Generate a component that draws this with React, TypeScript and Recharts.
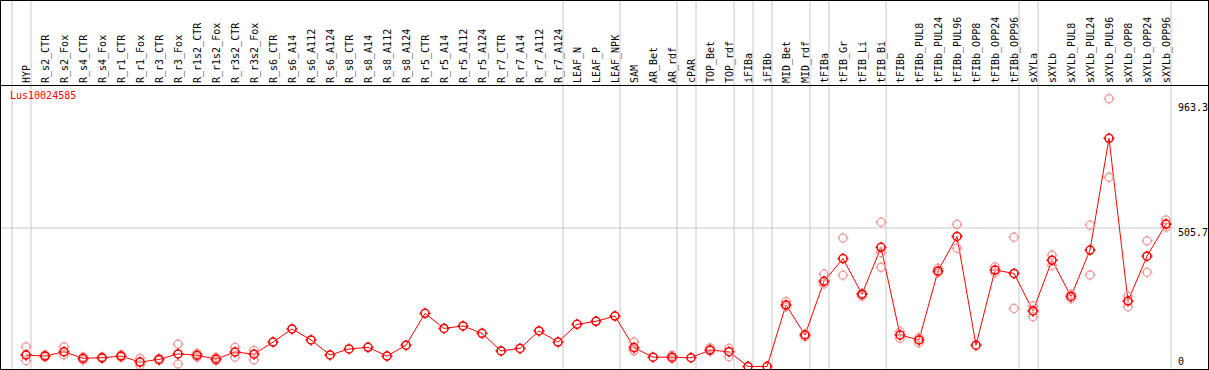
import { ComposedChart, Line, XAxis, YAxis, ReferenceLine } from 'recharts';

const names = [
  'HYP', 'R_s2_CTR', 'R_s2_Fox', 'R_s4_CTR', 'R_s4_Fox', 'R_r1_CTR', 'R_r1_Fox', 'R_r3_CTR', 'R_r3_Fox',
  'R_r1s2_CTR', 'R_r1s2_Fox', 'R_r3s2_CTR', 'R_r3s2_Fox', 'R_s6_CTR', 'R_s6_A14', 'R_s6_A112', 'R_s6_A124',
  'R_s8_CTR', 'R_s8_A14', 'R_s8_A112', 'R_s8_A124', 'R_r5_CTR', 'R_r5_A14', 'R_r5_A112', 'R_r5_A124',
  'R_r7_CTR', 'R_r7_A14', 'R_r7_A112', 'R_r7_A124', 'LEAF_N', 'LEAF_P', 'LEAF_NPK', 'SAM', 'AR_Bet', 'AR_rdf',
  'cPAR', 'TOP_Bet', 'TOP_rdf', 'iFIBa', 'iFIBb', 'MID_Bet', 'MID_rdf', 'tFIBa', 'tFIB_Gr', 'tFIB_Li', 'tFIB_Bi',
  'tFIBb', 'tFIBb_PUL8', 'tFIBb_PUL24', 'tFIBb_PUL96', 'tFIBb_OPP8', 'tFIBb_OPP24', 'tFIBb_OPP96',
  'sXYLa', 'sXYLb', 'sXYLb_PUL8', 'sXYLb_PUL24', 'sXYLb_PUL96', 'sXYLb_OPP8', 'sXYLb_OPP24', 'sXYLb_OPP96',
];

// mean expression per sample
const means = [
  42, 38, 54, 30, 32, 38, 16, 26, 46, 41, 27, 53, 45, 89, 137, 97, 42, 64, 70, 38, 78,
  194, 139, 148, 121, 57, 66, 130, 89, 154, 165, 184, 69, 34, 34, 32, 60, 54, 0, 0,
  225, 115, 311, 394, 264, 435, 115, 97, 349, 475, 78, 352, 340, 203, 388, 256, 425, 833, 239, 403, 520,
];

// replicates (null = none visible)
const rep1 = [
  72, 42, 72, 35, 35, 42, 30, 30, 82, 48, 34, 70, 59, null, null, null, null, null, null, null, null,
  null, null, null, null, null, null, null, null, null, null, null, 89, null, 41, null, 68, 66, null, null,
  237, 119, 338, 469, 267, 527, 127, 105, 359, 519, null, 364, 472, 221, 407, 264, 516, 978, 257, 459, 535,
];
const rep2 = [
  21, 35, 42, 24, 29, 34, 5, 23, 9, 34, 21, 34, 24, null, null, null, null, null, null, null, null,
  null, null, null, null, null, null, null, null, null, null, null, 58, null, 28, null, 57, 36, null, null,
  218, 109, 301, 333, 257, 416, 103, 87, 342, 432, null, 342, 212, 182, 369, 248, 334, 691, 218, 344, 509,
];
const rep3 = [
  42, null, null, null, null, null, null, null, null, null, null, null, null, null, null, null, null, null, null, null, null,
  null, null, null, null, null, null, null, null, null, null, null, 60, null, null, null, null, null, null, null,
  null, null, null, null, null, 362, null, null, null, null, null, null, null, null, null, null, null, null, null, null, null,
];

// group separators sit after these sample indices
const separators = [-1, 0, 28, 31, 34, 35, 37, 38, 39, 41, 42, 45, 52, 53, 60];
const yTicks = [0, 505.7, 963.3];
const gridValue = 505.7;

const W = 1209;
const H = 370;
const X0 = 26; // pixel of first sample
const STEP = 19; // pixels per sample
const Y_ZERO = 366.5;
const PX_PER_UNIT = 0.27388;
const PLOT_TOP = 1;
const PLOT_RIGHT = W - 1;

const xDomain = [-X0 / STEP, (PLOT_RIGHT - X0) / STEP];
const yDomain = [(Y_ZERO - H) / PX_PER_UNIT, (Y_ZERO - PLOT_TOP) / PX_PER_UNIT];

const FONT = '"DejaVu Sans Mono", monospace';

const data = names.map((name, i) => ({
  i,
  name,
  mean: means[i],
  r1: rep1[i],
  r2: rep2[i],
  r3: rep3[i],
}));

function Marker({ cx, cy, color, width }: { cx: number; cy: number; color: string; width: number }) {
  const r = 4;
  return (
    <g stroke={color} strokeWidth={width} fill="none">
      <circle cx={cx} cy={cy} r={r} />
      <line x1={cx} y1={cy - r - 1.5} x2={cx} y2={cy - r + 0.5} />
      <line x1={cx} y1={cy + r - 0.5} x2={cx} y2={cy + r + 1.5} />
      <line x1={cx - r - 1.5} y1={cy} x2={cx - r + 0.5} y2={cy} />
      <line x1={cx + r - 0.5} y1={cy} x2={cx + r + 1.5} y2={cy} />
    </g>
  );
}

const mainDot = (props: any) => {
  const { cx, cy, index } = props;
  if (cx == null || cy == null || props.value == null) return <g key={`m-${index}`} />;
  return (
    <g key={`m-${index}`}>
      <Marker cx={cx} cy={cy} color="#ff0000" width={1.5} />
    </g>
  );
};

const repDot = (tag: string) => (props: any) => {
  const { cx, cy, index } = props;
  if (cx == null || cy == null || props.value == null) return <g key={`${tag}-${index}`} />;
  return (
    <g key={`${tag}-${index}`}>
      <Marker cx={cx} cy={cy} color="#f29a9a" width={1.3} />
    </g>
  );
};

const XTick = (props: any) => {
  const { x, payload } = props;
  return (
    <g>
      <text
        transform={`translate(${x + 4},83) rotate(-90)`}
        fontFamily={FONT}
        fontSize={10}
        fill="#000"
        textAnchor="start"
      >
        {names[payload.value]}
      </text>
    </g>
  );
};

const YTick = (props: any) => {
  const { y, payload } = props;
  return (
    <g>
      <text x={1178} y={Math.min(y + 8, 365)} fontFamily={FONT} fontSize={10} fill="#000" textAnchor="start">
        {payload.value}
      </text>
    </g>
  );
};

export default function App() {
  return (
    <div style={{ position: 'absolute', left: 0, top: 0, width: W, height: H, background: '#fff' }}>
      <ComposedChart width={W} height={H} data={data} margin={{ top: 0, right: 0, bottom: 0, left: 0 }}>
        <XAxis
          type="number"
          dataKey="i"
          orientation="top"
          domain={xDomain}
          allowDataOverflow
          ticks={names.map((_, i) => i)}
          interval={0}
          height={PLOT_TOP}
          axisLine={false}
          tickLine={false}
          tick={XTick}
        />
        <YAxis
          type="number"
          orientation="right"
          domain={yDomain}
          allowDataOverflow
          ticks={yTicks}
          interval={0}
          width={W - PLOT_RIGHT}
          axisLine={false}
          tickLine={false}
          tick={YTick}
        />
        {separators.map((s) => (
          <ReferenceLine key={s} x={s + 5 / STEP} stroke="#c8c8c8" strokeWidth={1} />
        ))}
        <ReferenceLine
          segment={[
            { x: (1 - X0) / STEP, y: gridValue },
            { x: (1175 - X0) / STEP, y: gridValue },
          ]}
          stroke="#c8c8c8"
          strokeWidth={1}
        />
        <Line dataKey="r1" stroke="none" dot={repDot('a')} activeDot={false} isAnimationActive={false} />
        <Line dataKey="r2" stroke="none" dot={repDot('b')} activeDot={false} isAnimationActive={false} />
        <Line dataKey="r3" stroke="none" dot={repDot('c')} activeDot={false} isAnimationActive={false} />
        <Line
          dataKey="mean"
          stroke="#ff0000"
          strokeWidth={1}
          dot={mainDot}
          activeDot={false}
          isAnimationActive={false}
        />
      </ComposedChart>
      <div
        style={{
          position: 'absolute',
          left: 10,
          top: 90,
          color: '#ff0000',
          fontFamily: FONT,
          fontSize: 10,
          lineHeight: '12px',
        }}
      >
        Lus10024585
      </div>
      <div style={{ position: 'absolute', left: 0, top: 85, width: W, height: 1, background: '#000' }} />
      <div
        style={{
          position: 'absolute',
          left: 0,
          top: 0,
          width: W,
          height: H,
          border: '1px solid #000',
          boxSizing: 'border-box',
          pointerEvents: 'none',
        }}
      />
    </div>
  );
}
